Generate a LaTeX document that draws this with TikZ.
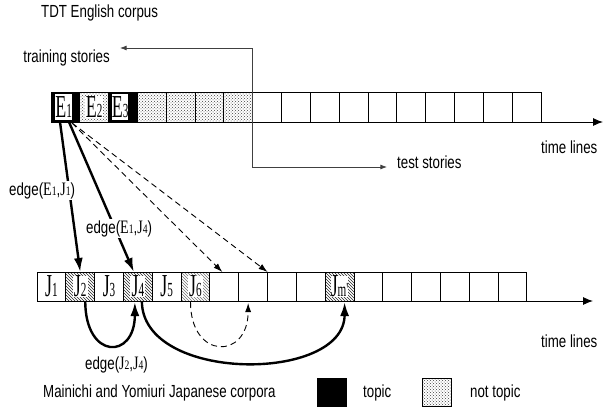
\documentclass[tikz,border=0pt]{standalone}
\usepackage{fontspec}
\setmainfont[FakeStretch=0.76]{Liberation Sans}
\newfontfamily\serifcell[FakeStretch=0.56]{Liberation Serif}
\newfontfamily\serifedge[FakeStretch=0.74]{Liberation Serif}
\usepackage{tikz}
\usetikzlibrary{positioning,arrows.meta,patterns,calc}
\newcommand{\clab}[2]{{\serifcell\fontsize{32}{32}\selectfont #1{\fontsize{20}{20}\selectfont #2}}}
\newcommand{\elab}[2]{{\serifedge\fontsize{19}{19}\selectfont #1{\fontsize{13}{13}\selectfont #2}}}

\begin{document}
\begin{tikzpicture}[x=1pt, y=-1pt, >=Latex, font=\fontsize{17.5}{20}\selectfont,
    cell/.style={draw, line width=0.9pt, minimum width=28.82pt, inner sep=0pt, outer sep=0pt},
    plaincell/.style={cell},
    topiccell/.style={cell, fill=black},
    dotcell/.style={cell, pattern=crosshatch dots, pattern color=black!75},
    hatchcell/.style={cell, pattern=north west lines, pattern color=black!85},
    hatchlight/.style={cell, pattern=north west lines, pattern color=black!55},
    txt/.style={inner sep=0pt, anchor=base west},
    heavy/.style={line width=2.4pt, -{Latex[length=14pt,width=9pt]}},
    light/.style={line width=0.9pt, dash pattern=on 6pt off 4pt, -{Latex[length=9pt,width=6pt]}},
    axis/.style={line width=0.9pt, -{Latex[length=10pt,width=8pt]}}]
  \useasboundingbox (0,0) rectangle (604,412);

  % English stories
  \foreach \i/\k in {1/topiccell,2/dotcell,3/topiccell,4/dotcell,5/dotcell,6/dotcell,7/dotcell,
      8/plaincell,9/plaincell,10/plaincell,11/plaincell,12/plaincell,13/plaincell,14/plaincell,
      15/plaincell,16/plaincell,17/plaincell}
    \node[\k, minimum height=30pt] (t\i) at ({51+(\i-0.5)*28.82}, 107) {};
  \node[fill=white, inner sep=0pt, minimum width=17pt, minimum height=26pt, anchor=west] (E1)
    at ($(t1.west)+(4,0)$) {\clab{E}{1}};
  \node[fill=white, inner sep=0.5pt] (E2) at (t2) {\clab{E}{2}};
  \node[fill=white, inner sep=0pt, minimum width=16pt, minimum height=26pt, anchor=west] (E3)
    at ($(t3.west)+(3,0)$) {\clab{E}{3}};

  % Japanese stories
  \foreach \i/\k in {1/plaincell,2/hatchcell,3/plaincell,4/hatchcell,5/plaincell,6/hatchlight,
      7/plaincell,8/plaincell,9/plaincell,10/plaincell,11/hatchcell,12/plaincell,13/plaincell,
      14/plaincell,15/plaincell,16/plaincell,17/plaincell}
    \node[\k, minimum height=29pt] (b\i) at ({37+(\i-0.5)*28.82}, 286.5) {};
  \node (J1) at (b1) {\clab{J}{1}};
  \node[fill=white, inner sep=0pt, minimum width=15pt, minimum height=21pt] (J2) at (b2) {\clab{J}{2}};
  \node (J3) at (b3) {\clab{J}{3}};
  \node[fill=white, inner sep=0pt, minimum width=15pt, minimum height=21pt] (J4) at (b4) {\clab{J}{4}};
  \node (J5) at (b5) {\clab{J}{5}};
  \node[fill=white, inner sep=0pt, minimum width=15pt, minimum height=21pt] (J6) at (b6) {\clab{J}{6}};
  \node[fill=white, inner sep=0pt, minimum width=17pt, minimum height=21pt] (Jm) at (b11) {\clab{J}{m'}};

  % time axes
  \coordinate (taxis) at (603,122);
  \coordinate (baxis) at (593,301);
  \draw[axis] (t1.south west) -- (taxis);
  \draw[axis] (b1.south west) -- (baxis);
  \node[txt] (tlines) at (541,153) {time lines};
  \node[txt] (blines) at (541,347) {time lines};

  % training / test split
  \coordinate (trainend) at (120,48);
  \coordinate (splittop) at (t7.south east |- trainend);
  \coordinate (splitbot) at ($(t7.south east)+(0,45)$);
  \coordinate (testend) at (387,167);
  \draw[black!75, line width=0.8pt, Latex-Latex] (trainend) -- (splittop) -- (splitbot) -- (testend);
  \node[txt] (title) at (41,18) {TDT English corpus};
  \node[txt, anchor=base east] (train) at (110,62.5) {training stories};
  \node[txt] (test) at (397,168) {test stories};

  % edges from E1
  \coordinate (e1a) at ($(t1.south west)+(9,0)$);
  \coordinate (e1b) at ($(t1.south west)+(18,0)$);
  \coordinate (e1c) at ($(t1.south west)+(21,1)$);
  \draw[heavy] (e1a) -- (b2.north);
  \draw[heavy] (e1b) -- ($(b4.north)+(-4,0)$);
  \draw[light] (e1c) -- ($(b7.north)+(-2,0)$);
  \draw[light] (e1c) -- (b8.north east);
  \node[txt, fill=white, inner sep=1pt] (edgeEa) at (8,195) {edge(\elab{E}{1},\elab{J}{1})};
  \node[txt, fill=white, inner sep=1pt] (edgeEb) at (85,233) {edge(\elab{E}{1},\elab{J}{4})};

  % edges between Japanese stories
  \draw[heavy] ($(b2.south)+(5,0)$) .. controls +(0,59) and +(0,58) .. ($(b4.south)+(-3,1)$);
  \draw[heavy] ($(b4.south)+(4,0)$) .. controls +(0,82) and +(0,81) .. ($(b11.south)+(5,1)$);
  \draw[light] ($(b6.south)+(-5,1)$) .. controls +(0,58) and +(0,57) .. ($(b8.south)+(-5,2)$);
  \node[txt] (edgeJ) at (85,369) {edge(\elab{J}{2},\elab{J}{4})};

  % legend
  \node[txt] (corpora) at (43,397) {Mainichi and Yomiuri Japanese corpora};
  \node[draw, fill=black, minimum width=29pt, minimum height=28pt, inner sep=0pt] (legtopic) at (332,392) {};
  \node[txt] (topic) at (363,397) {topic};
  \node[draw, line width=0.9pt, pattern=crosshatch dots, pattern color=black!75, minimum width=29pt,
    minimum height=28pt, inner sep=0pt] (legnot) at (437,392) {};
  \node[txt] (nottopic) at (470,397) {not topic};
\end{tikzpicture}
\end{document}
